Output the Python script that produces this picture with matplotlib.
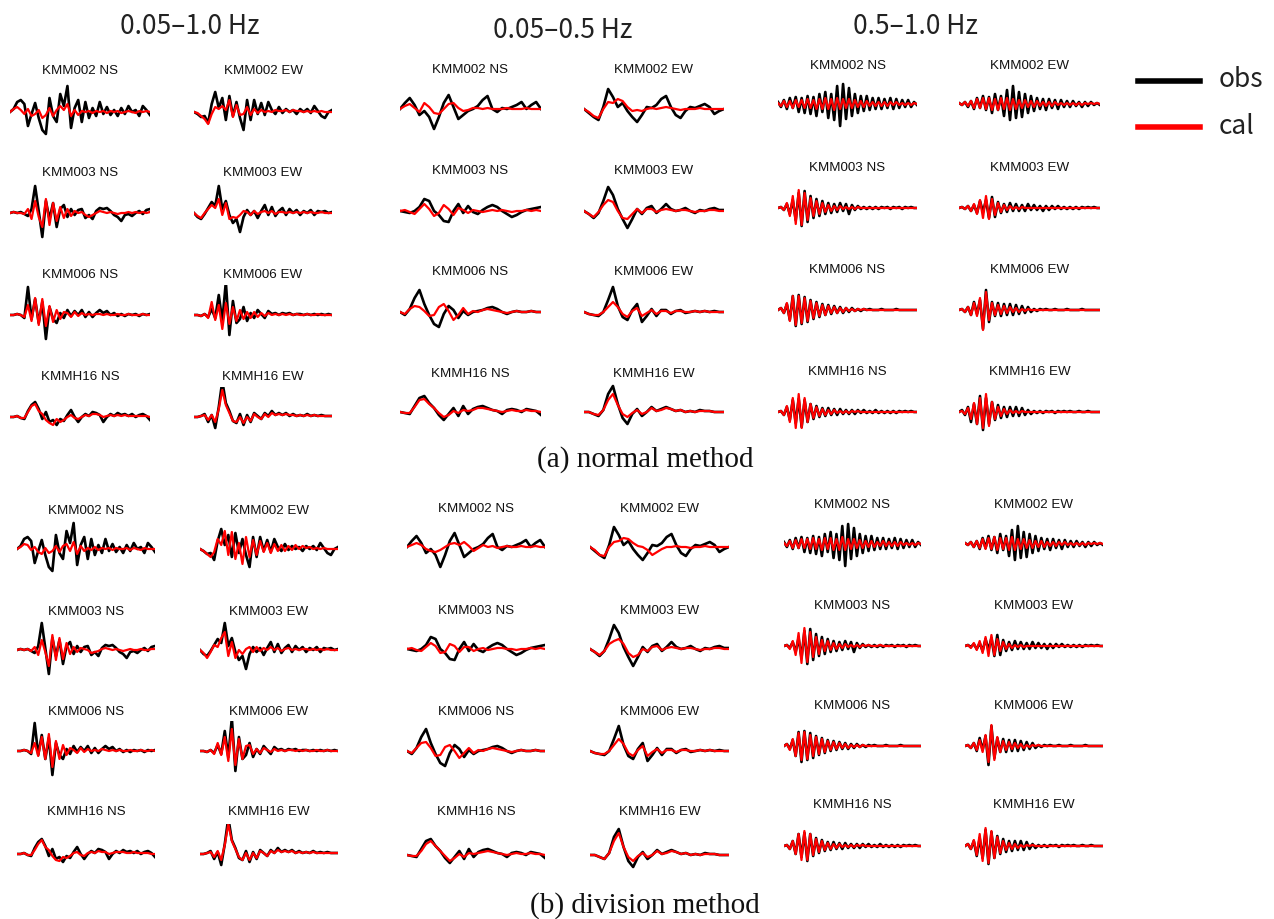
import matplotlib
matplotlib.use("Agg")
import matplotlib.pyplot as plt
from matplotlib.lines import Line2D

# station / component order of every trace list below
stations = ["KMM002", "KMM003", "KMM006", "KMMH16"]
components = ["NS", "EW"]
band_titles = ["0.05\u20131.0 Hz", "0.05\u20130.5 Hz", "0.5\u20131.0 Hz"]
panel_titles = ["(a) normal method", "(b) division method"]
series_names = ["obs", "cal"]

# velocity traces (arbitrary units), 0.05-1.0 Hz
obs_wide = [
    [0, 3, 10, 12, 8, -14, -2, 9, -6, -18, -22, 14, -4, -10, 18, 6, 26, -16, 4, 12, -10, 10, -6, 4, -4, 10, -2, 5, -3, 2, -4, 4, -2, 6, 0, 2, -4, 6, 2, -3],
    [0, -2, -5, -4, -11, 8, 20, 4, 14, -8, 16, -4, 10, -6, -18, 12, -8, 12, -2, 9, -3, 10, 2, -2, 5, -1, 3, 0, 2, -2, 3, 0, 3, -1, 6, 1, -4, -6, 0, 2],
    [0, 1, 0, 1, -1, -3, 4, 27, 2, -24, 12, -6, 10, -14, 4, 8, -4, 4, -2, 3, 4, -5, -2, -6, 2, 5, 4, 5, 2, -2, -4, -8, -2, -1, -3, 0, 2, -1, 3, 4],
    [0, -4, -6, -1, 5, 11, 7, 27, 4, 12, -2, -10, -6, -19, -4, 3, -2, 2, -5, 2, 8, -2, 6, -3, 2, 5, -2, 4, 0, 3, -2, 2, 0, 3, -2, 2, 1, 2, 0, 1],
    [0, 0, 1, 0, -3, 28, -4, 16, -8, 13, -24, 8, -4, -8, 2, -3, 5, -1, 4, 0, 5, -2, 3, -2, 2, 5, 2, 4, 0, 2, -1, 1, -1, 1, 0, 1, -1, 1, 0, 1],
    [0, 0, -1, 1, -2, 6, -3, 20, -6, 33, -20, 14, -8, -4, 8, -6, 2, -3, 5, 1, -3, 4, 1, 2, 0, 2, 1, 2, 0, 1, 1, 0, 1, 0, 1, 0, 1, 0, 1, 0],
    [0, 0, 1, -1, -2, 6, 12, 15, 8, -2, 5, -5, -3, -8, -2, -4, 2, 7, 0, -5, 0, 3, 1, 5, 4, 2, -5, 0, 3, 1, 4, 2, 3, 1, 3, 0, 2, 3, 1, -3],
    [0, 0, 1, 3, -5, 2, -11, 10, 36, 14, 6, -4, -6, 3, -8, 2, -5, 4, 1, -2, 4, 1, 6, 2, 4, 2, 4, 1, 3, 1, 2, 1, 3, 1, 2, 1, 2, 1, 1, 1],
]
cal_normal_wide = [
    [0, 3, 5, 2, -2, 3, -4, -2, 2, -6, -3, 4, -4, 2, 6, 2, 8, -4, 2, -3, 1, 0, 1, -1, 1, 0, 1, -1, 1, 0, 1, -1, 0, 1, 0, -1, 1, 0, 1, 0],
    [0, -1, -4, -7, -12, -2, 5, 3, 6, 2, 12, -5, 7, -3, -2, 5, -3, 3, -1, 2, 0, 1, 0, 2, 1, 1, 2, 0, 2, 1, 1, 0, 1, 0, 1, 0, 1, 0, 0, 0],
    [0, 1, 0, 0, -1, 4, -6, 12, -4, -14, 14, -12, 10, -8, 6, -5, 4, -3, 2, 0, 1, -2, -4, -2, 0, 2, 1, 0, 1, 0, -1, 0, 0, 1, 0, 1, 0, 1, 0, 1],
    [0, -3, -5, 0, 4, 8, 5, 14, -2, 10, -6, -4, -5, -2, 2, 1, -2, 2, -1, 1, 2, 0, 2, -1, 1, 1, 0, 1, 0, 1, 0, 1, 0, 1, 0, 0, 1, 0, 0, 0],
    [0, 0, 1, 0, -2, 10, -6, 17, -10, 16, -11, 9, -7, 5, -4, 3, 2, -2, 3, -1, 2, 0, 1, 0, 1, 1, 0, 1, 0, 0, 1, 0, 0, 1, 0, 0, 0, 1, 0, 0],
    [0, 0, -1, 1, -3, 13, -5, 10, -14, 12, -9, 8, -6, 5, -4, 3, -3, 3, -2, 2, -1, 2, 0, 1, 0, 1, 0, 1, 0, 1, 0, 0, 1, 0, 0, 1, 0, 0, 0, 0],
    [0, 0, 1, -1, -1, 5, 11, 13, 6, 3, -3, -6, -8, -2, -5, -3, 0, 2, -1, -2, 0, 2, 1, 3, 3, 2, 0, 1, 2, 1, 2, 1, 2, 1, 1, 1, 1, 1, 1, 0],
    [0, 0, 1, 2, -3, 2, -5, 8, 27, 12, 4, -4, -5, 0, -6, 0, -4, 3, 0, -2, 3, 0, 4, 2, 3, 2, 3, 2, 2, 1, 2, 1, 2, 1, 2, 1, 1, 1, 1, 1],
]
cal_division_wide = [
    [0, 2, 5, 4, -1, 2, -3, -5, 1, -4, -2, 3, -3, 3, 5, -2, 7, -5, 3, -2, 1, -1, 2, -1, 1, 0, 1, -1, 1, 0, 0, 1, -1, 1, 0, -1, 1, 0, 0, 0],
    [0, -2, -5, -8, -3, 10, 4, 18, -6, 17, -10, 6, -15, 12, -8, 9, -6, 8, -3, 6, -4, 5, -2, 4, -2, 3, -1, 4, 0, 3, 1, 2, 0, 1, 0, 1, 0, 0, 0, 0],
    [0, 1, 0, 1, -1, 3, -5, 10, -2, -16, 15, -10, 12, -9, 7, -4, 3, -2, 2, 1, 0, -3, -2, -1, 1, 2, 1, 0, 1, 0, -1, 0, 1, 0, 0, 1, 0, 0, 1, 1],
    [0, -3, -8, -2, 5, 3, 12, 18, -6, 8, -8, 0, -4, 1, 3, -2, 3, -1, 2, 0, 3, 0, 2, -1, 1, 2, 0, 1, 0, 1, 1, 0, 1, 0, 1, 0, 1, 0, 0, 0],
    [0, 0, 1, 0, -2, 8, -5, 14, -8, 17, -16, 10, -8, 6, -4, 3, 1, -2, 3, -1, 2, 0, 1, 0, 2, 1, 0, 1, 0, 1, 0, 0, 1, 0, 0, 1, 0, 0, 1, 0],
    [0, 0, -1, 1, -3, 8, -4, 14, -10, 22, -14, 12, -8, 5, 6, -3, 2, -2, 3, 1, -1, 2, 0, 1, 0, 1, 1, 0, 1, 0, 1, 0, 0, 1, 0, 0, 1, 0, 0, 0],
    [0, 0, 1, -1, -1, 4, 10, 14, 7, 4, -2, -6, -7, -3, -4, -2, 1, 2, -1, -2, 1, 2, 1, 3, 2, 2, 0, 1, 2, 2, 2, 1, 1, 2, 1, 1, 1, 1, 0, 0],
    [0, 0, 1, 2, -3, 3, -6, 9, 30, 13, 5, -3, -6, 1, -6, 1, -4, 3, 1, -2, 3, 1, 4, 2, 3, 2, 3, 1, 2, 1, 2, 1, 2, 1, 1, 1, 1, 1, 1, 1],
]

# 0.05-0.5 Hz
obs_low = [
    [0, 6, 11, 4, -6, -2, -8, -20, -8, 6, 14, 2, -10, -6, -2, 0, 3, 9, 13, 0, -3, 1, 0, 2, 4, 7, 0, 4, 7, 0],
    [0, -4, -8, -11, 2, 20, 12, 2, 6, -2, -8, -13, -6, 2, 1, 4, 10, 13, 2, -6, -9, -2, 2, 1, 3, 5, 2, -5, -2, 0],
    [0, -1, -2, 0, 4, 12, 10, 0, -4, -10, -11, 0, 7, -2, 5, -1, -3, 1, 4, 6, 4, 0, -3, -6, -4, -1, 1, 2, 3, 4],
    [0, -3, -7, -2, 10, 24, 16, 2, -8, -17, -8, 2, -3, 3, 5, -2, 2, 7, 2, 0, 1, 3, 0, -2, 1, 0, 2, 3, 1, 1],
    [0, -3, 3, 14, 22, 8, -3, -12, -15, -2, 6, 2, -6, 1, -3, 0, 1, 2, 4, 5, 3, 0, -2, 0, 1, 0, 0, 1, 0, 0],
    [0, -2, -3, -4, 0, 12, 25, 6, -5, -8, 2, 8, -10, -4, 3, -4, 2, 2, -2, 1, 2, -1, 0, 1, 0, 1, 0, 1, 0, 0],
    [0, -1, -2, 6, 14, 16, 9, 4, -3, -8, -2, 4, -4, 6, -2, 3, 5, 6, 4, 2, 1, -2, 2, 3, 2, 0, 3, 2, 1, -3],
    [0, 0, -2, -4, 2, 18, 26, 8, -6, -12, -2, 3, -4, 0, 5, 1, 3, 5, 3, 1, 2, 0, 1, 0, 2, 1, 1, 0, 0, 0],
]
cal_normal_low = [
    [0, 3, 5, 1, -3, 6, 2, -4, -5, 0, 5, 6, 1, -2, -1, 1, 1, 0, 1, 0, 0, 0, 1, 0, 0, 0, 1, 0, 0, 0],
    [0, -3, -7, -9, 0, 7, 6, 10, 8, 2, -2, -1, -2, 0, 1, 0, 1, 2, 1, 0, -1, 0, 0, 0, 1, 0, 0, 0, 0, 0],
    [0, 1, -1, -3, 2, 7, 2, -5, -2, 6, 2, -4, 3, 1, -2, 1, 0, -1, 0, 1, 0, 1, 0, -1, 0, 0, 1, 0, 1, 0],
    [0, -3, -6, -1, 6, 11, 9, 0, -7, -8, -3, 2, -2, 2, 2, -1, 1, 2, 1, 0, 1, 1, 0, -1, 0, 0, 1, 1, 0, 0],
    [0, -2, 3, 6, 5, 1, -4, -3, 5, 8, 1, -8, -3, 4, -2, 1, 0, 2, 3, 2, 1, 0, -1, 0, 1, 0, 0, 1, 0, 0],
    [0, -2, -3, -3, 0, 5, 10, 5, -2, -5, 1, 4, -4, -1, 2, -2, 1, 1, -1, 1, 1, 0, 0, 1, 0, 1, 0, 0, 0, 0],
    [0, -1, -1, 5, 12, 13, 8, 4, -1, -5, -3, 1, -1, 2, 1, 2, 4, 4, 3, 2, 1, 0, 1, 2, 1, 1, 2, 1, 1, 0],
    [0, 0, -2, -3, 2, 12, 18, 7, -2, -5, -1, 2, -2, 0, 4, 1, 2, 4, 3, 1, 2, 0, 1, 0, 1, 1, 1, 0, 0, 0],
]
cal_division_low = [
    [0, 2, 4, 2, -2, -4, -5, -3, 0, 3, 4, 2, 5, 1, -4, -1, 2, 0, 1, -1, 0, 1, 0, 0, 1, 0, 0, 1, 0, 0],
    [0, -3, -8, -9, 0, 5, 6, 9, 8, 4, 1, 0, -3, -8, -5, -2, 0, 0, 1, 0, 0, -1, 0, 0, 1, 0, 0, 0, 0, 0],
    [0, 1, -1, -2, 2, 6, 3, -4, -3, 5, 3, -3, 2, 2, -2, 0, 1, -1, 0, 1, 1, 0, 0, -1, 0, 0, 1, 0, 1, 0],
    [0, -3, -6, -2, 5, 8, 10, 5, -4, -8, -6, 0, -2, 2, 3, -1, 1, 2, 1, 0, 1, 1, 0, -1, 0, 0, 1, 1, 0, 0],
    [0, -2, 3, 8, 9, 3, -5, -4, 4, 6, 0, -7, -2, 3, -2, 1, 0, 2, 3, 2, 1, 0, -1, 0, 1, 0, 0, 1, 0, 0],
    [0, -2, -3, -3, 0, 6, 12, 7, -2, -5, 1, 5, -5, -1, 2, -2, 1, 1, -1, 1, 1, 0, 0, 1, 0, 1, 0, 0, 0, 0],
    [0, -1, -1, 4, 11, 14, 9, 4, -1, -6, -3, 1, -2, 2, 1, 2, 3, 4, 3, 2, 1, 0, 1, 2, 1, 1, 2, 1, 1, 0],
    [0, 0, -2, -4, 2, 14, 22, 8, -2, -6, -1, 2, -2, 0, 4, 1, 2, 4, 3, 1, 2, 0, 1, 0, 1, 1, 1, 0, 0, 0],
]

# 0.5-1.0 Hz
obs_high = [
    [2, -3, 4, -5, 6, -4, 7, -8, 6, -9, 8, -10, 7, -12, 10, -8, 12, -14, 10, -16, 18, -22, 20, -15, 16, -12, 10, -9, 8, -7, 8, -6, 6, -5, 6, -5, 5, -4, 6, -5, 5, -4, 4, -3, 4, -3, 2, -1],
    [1, -1, 2, -3, 3, -5, 6, -4, 8, -6, 7, -9, 10, -6, 8, -12, 14, -16, 18, -14, 12, -13, 10, -9, 8, -7, 6, -5, 5, -6, 5, -4, 4, -5, 4, -3, 3, -3, 3, -2, 2, -3, 2, -2, 2, -1, 1, -1],
    [0, 1, -2, 4, -6, 8, -12, 15, -18, 17, -14, 12, -10, 9, -8, 7, -6, 5, -5, 4, -4, 5, -3, 4, -6, 3, -2, 2, -1, 1, -1, 1, -1, 1, -1, 1, 0, 1, -1, 1, 0, 1, -1, 1, 0, 1, 0, 0],
    [0, 1, -1, 2, -3, 3, -5, 7, -4, 8, -10, 11, -9, 6, -5, 4, -4, 5, -3, 4, -3, 3, -3, 4, -2, 3, -2, 2, -3, 2, -2, 2, -1, 2, -1, 1, -1, 1, -1, 1, -1, 1, 0, 1, 0, 1, 0, 0],
    [0, 2, -3, 6, -10, 14, -16, 15, -14, 13, -12, 10, -9, 8, -7, 6, -5, 5, -4, 4, -3, 3, -3, 2, -2, 2, -1, 1, -1, 1, 0, 1, 0, 0, 0, 1, 0, 0, 0, 0, 1, 0, 0, 0, 0, 0, 0, 0],
    [0, 1, -2, 3, -5, 8, -4, 10, -19, 20, -12, 8, -6, 7, -6, 6, -5, 6, -5, 5, -4, 4, -3, 3, -2, 1, -1, 1, 0, 1, 0, 0, 1, 0, 0, 0, 1, 0, 0, 0, 0, 1, 0, 0, 0, 0, 0, 0],
    [0, 1, -3, 5, -8, 12, -11, 13, -15, 12, -10, 8, -7, 6, -5, 4, -4, 4, -3, 3, -3, 3, -2, 2, -2, 2, -2, 2, -1, 2, -1, 1, -1, 2, -1, 1, -1, 1, -1, 1, -1, 1, 0, 1, 0, 1, 0, 0],
    [0, 2, -3, 5, -10, 8, -12, 16, -18, 14, -12, 10, -8, 7, -6, 5, -5, 5, -4, 5, -4, 4, -3, 2, -2, 1, -1, 1, -1, 1, 0, 1, -1, 1, 0, 1, 0, 1, 0, 0, 1, 0, 0, 1, 0, 0, 0, 0],
]
cal_normal_high = [
    [1, -2, 3, -3, 3, -4, 4, -3, 4, -4, 5, -4, 4, -5, 5, -5, 6, -5, 5, -6, 6, -5, 5, -4, 5, -4, 4, -3, 3, -3, 3, -2, 2, -2, 2, -2, 2, -2, 2, -1, 2, -1, 1, -1, 1, -1, 1, 0],
    [1, -1, 2, -2, 3, -4, 5, -4, 6, -5, 6, -6, 5, -6, 6, -5, 6, -6, 5, -5, 4, -4, 4, -3, 3, -3, 3, -2, 2, -2, 2, -2, 2, -1, 1, -1, 1, -1, 1, -1, 1, -1, 1, 0, 1, 0, 1, 0],
    [0, 1, -2, 5, -8, 12, -16, 18, -17, 15, -12, 10, -8, 7, -6, 5, -4, 3, -3, 2, -2, 2, -1, 1, -1, 1, -1, 1, 0, 0, 0, 0, 0, 0, 0, 0, 0, 0, 0, 0, 0, 0, 0, 0, 0, 0, 0, 0],
    [0, 1, -1, 2, -3, 4, -6, 8, -10, 12, -11, 9, -7, 5, -4, 3, -2, 2, -1, 1, -1, 1, 0, 0, 0, 0, 0, 0, 0, 0, 0, 0, 0, 0, 0, 0, 0, 0, 0, 0, 0, 0, 0, 0, 0, 0, 0, 0],
    [0, 2, -3, 7, -11, 14, -15, 14, -13, 12, -11, 9, -8, 7, -6, 5, -5, 4, -3, 3, -3, 2, -2, 2, -1, 1, -1, 1, 0, 1, 0, 0, 0, 0, 0, 0, 0, 0, 0, 0, 0, 0, 0, 0, 0, 0, 0, 0],
    [0, 1, -2, 3, -5, 7, -6, 12, -20, 18, -10, 7, -5, 5, -4, 4, -3, 3, -2, 2, -2, 1, -1, 1, 0, 0, 0, 0, 0, 0, 0, 0, 0, 0, 0, 0, 0, 0, 0, 0, 0, 0, 0, 0, 0, 0, 0, 0],
    [0, 1, -3, 6, -10, 14, -16, 18, -16, 14, -10, 8, -6, 5, -4, 3, -3, 2, -2, 2, -1, 1, -1, 1, -1, 1, 0, 1, 0, 0, 0, 0, 0, 0, 0, 0, 0, 0, 0, 0, 0, 0, 0, 0, 0, 0, 0, 0],
    [0, 1, -2, 4, -7, 9, -12, 14, -16, 18, -14, 10, -7, 5, -4, 3, -2, 2, -1, 1, -1, 1, 0, 0, 0, 0, 0, 0, 0, 0, 0, 0, 0, 0, 0, 0, 0, 0, 0, 0, 0, 0, 0, 0, 0, 0, 0, 0],
]
cal_division_high = [
    [1, -2, 3, -4, 4, -4, 5, -4, 5, -5, 6, -5, 5, -6, 6, -5, 6, -6, 5, -6, 7, -6, 5, -5, 5, -4, 4, -4, 3, -3, 3, -3, 2, -2, 3, -2, 2, -2, 2, -2, 2, -1, 1, -1, 1, -1, 1, 0],
    [1, -1, 2, -3, 3, -4, 5, -5, 6, -5, 7, -6, 6, -5, 6, -6, 7, -6, 5, -5, 5, -4, 4, -4, 3, -3, 3, -3, 2, -2, 2, -2, 2, -1, 2, -1, 1, -1, 1, -1, 1, -1, 1, 0, 1, 0, 1, 0],
    [0, 1, -3, 5, -9, 13, -17, 18, -16, 14, -11, 9, -8, 6, -5, 5, -4, 3, -3, 2, -2, 2, -1, 1, -1, 1, -1, 1, 0, 1, 0, 0, 0, 1, 0, 0, 0, 0, 0, 0, 0, 0, 0, 0, 0, 0, 0, 0],
    [0, 1, -2, 3, -4, 5, -7, 9, -10, 11, -9, 7, -5, 4, -3, 2, -2, 1, -1, 1, -1, 0, 0, 0, 0, 0, 0, 0, 0, 0, 0, 0, 0, 0, 0, 0, 0, 0, 0, 0, 0, 0, 0, 0, 0, 0, 0, 0],
    [0, 2, -4, 7, -10, 13, -14, 14, -13, 11, -10, 9, -8, 7, -6, 5, -4, 4, -3, 3, -2, 2, -2, 1, -1, 1, -1, 1, 0, 0, 0, 0, 0, 0, 0, 0, 0, 0, 0, 0, 0, 0, 0, 0, 0, 0, 0, 0],
    [0, 1, -2, 3, -4, 6, -6, 11, -16, 21, -14, 9, -6, 5, -4, 4, -3, 3, -2, 2, -2, 1, -1, 1, 0, 1, 0, 0, 0, 0, 0, 0, 0, 0, 0, 0, 0, 0, 0, 0, 0, 0, 0, 0, 0, 0, 0, 0],
    [0, 1, -3, 5, -8, 12, -14, 15, -14, 12, -9, 7, -6, 5, -4, 3, -3, 2, -2, 2, -1, 1, -1, 1, -1, 1, 0, 1, 0, 0, 0, 0, 0, 0, 0, 0, 0, 0, 0, 0, 0, 0, 0, 0, 0, 0, 0, 0],
    [0, 2, -3, 6, -9, 12, -15, 18, -17, 15, -12, 9, -7, 5, -4, 3, -3, 2, -2, 1, -1, 1, 0, 1, 0, 0, 0, 0, 0, 0, 0, 0, 0, 0, 0, 0, 0, 0, 0, 0, 0, 0, 0, 0, 0, 0, 0, 0],
]

obs_bands = [obs_wide, obs_low, obs_high]
cal_bands = [
    [cal_normal_wide, cal_normal_low, cal_normal_high],
    [cal_division_wide, cal_division_low, cal_division_high],
]

# ---- layout (pixels) ----
W, H = 1274, 920
col_spans = [
    [(10, 150), (194, 332), (400, 541), (584, 724), (778, 917), (959, 1100)],
    [(17, 155), (200, 338), (407, 545), (590, 729), (784, 921), (965, 1103)],
]
# trace baselines [panel][band][row]
baselines = [
    [[113, 214, 316, 418], [110, 212, 313, 413], [105, 209, 311, 413]],
    [[550, 651, 752, 855], [548, 650, 752, 856], [545, 647, 747, 847]],
]
label_ys = [
    [[71, 173, 275, 377], [70, 171, 272, 374], [66, 168, 270, 372]],
    [[511, 612, 712, 812], [509, 611, 712, 812], [505, 606, 706, 805]],
]
title_pos = [(190, 27), (563, 30), (915, 26)]
panel_title_y = [460, 906]
half_h = 30

cjk = ["Noto Sans CJK JP", "DejaVu Sans"]
label_font = ["Liberation Sans", "DejaVu Sans"]

fig = plt.figure(figsize=(W / 100, H / 100), dpi=100)


def fx(x):
    return x / W


def fy(y):
    return 1 - y / H


for p in range(2):
    for b in range(3):
        for r, st in enumerate(stations):
            for c, comp in enumerate(components):
                k = r * 2 + c
                x0, x1 = col_spans[p][b * 2 + c]
                yc = baselines[p][b][r]
                ax = fig.add_axes([fx(x0), fy(yc + half_h), (x1 - x0) / W, 2 * half_h / H])
                obs = obs_bands[b][k]
                cal = cal_bands[p][b][k]
                ax.plot(range(len(obs)), obs, color="black", lw=1.9, solid_joinstyle="round")
                ax.plot(range(len(cal)), cal, color="#ff0000", lw=1.6, solid_joinstyle="round")
                ax.set_xlim(0, len(obs) - 1)
                ax.set_ylim(-half_h, half_h)
                ax.axis("off")
                fig.text(fx((x0 + x1) / 2), fy(label_ys[p][b][r]), f"{st} {comp}",
                         ha="center", va="center", fontsize=9.6, family=label_font,
                         color="#111111")
    fig.text(fx(645), fy(panel_title_y[p]), panel_titles[p], ha="center", va="center",
             fontsize=21, family=["Liberation Serif", "DejaVu Serif"], color="#111111")

for t, (x, y) in zip(band_titles, title_pos):
    fig.text(fx(x), fy(y), t, ha="center", va="center", fontsize=19, family=cjk,
             color="#222222")

# legend keys
for name, color, y in zip(series_names, ["black", "#ff0000"], [82, 128]):
    fig.add_artist(Line2D([fx(1138), fx(1200)], [fy(y), fy(y)], color=color, lw=4,
                          transform=fig.transFigure))
    fig.text(fx(1219), fy(y - 2), name, ha="left", va="center", fontsize=19,
             family=cjk, color="#222222")

fig.savefig("out.png", dpi=100, facecolor="white")
